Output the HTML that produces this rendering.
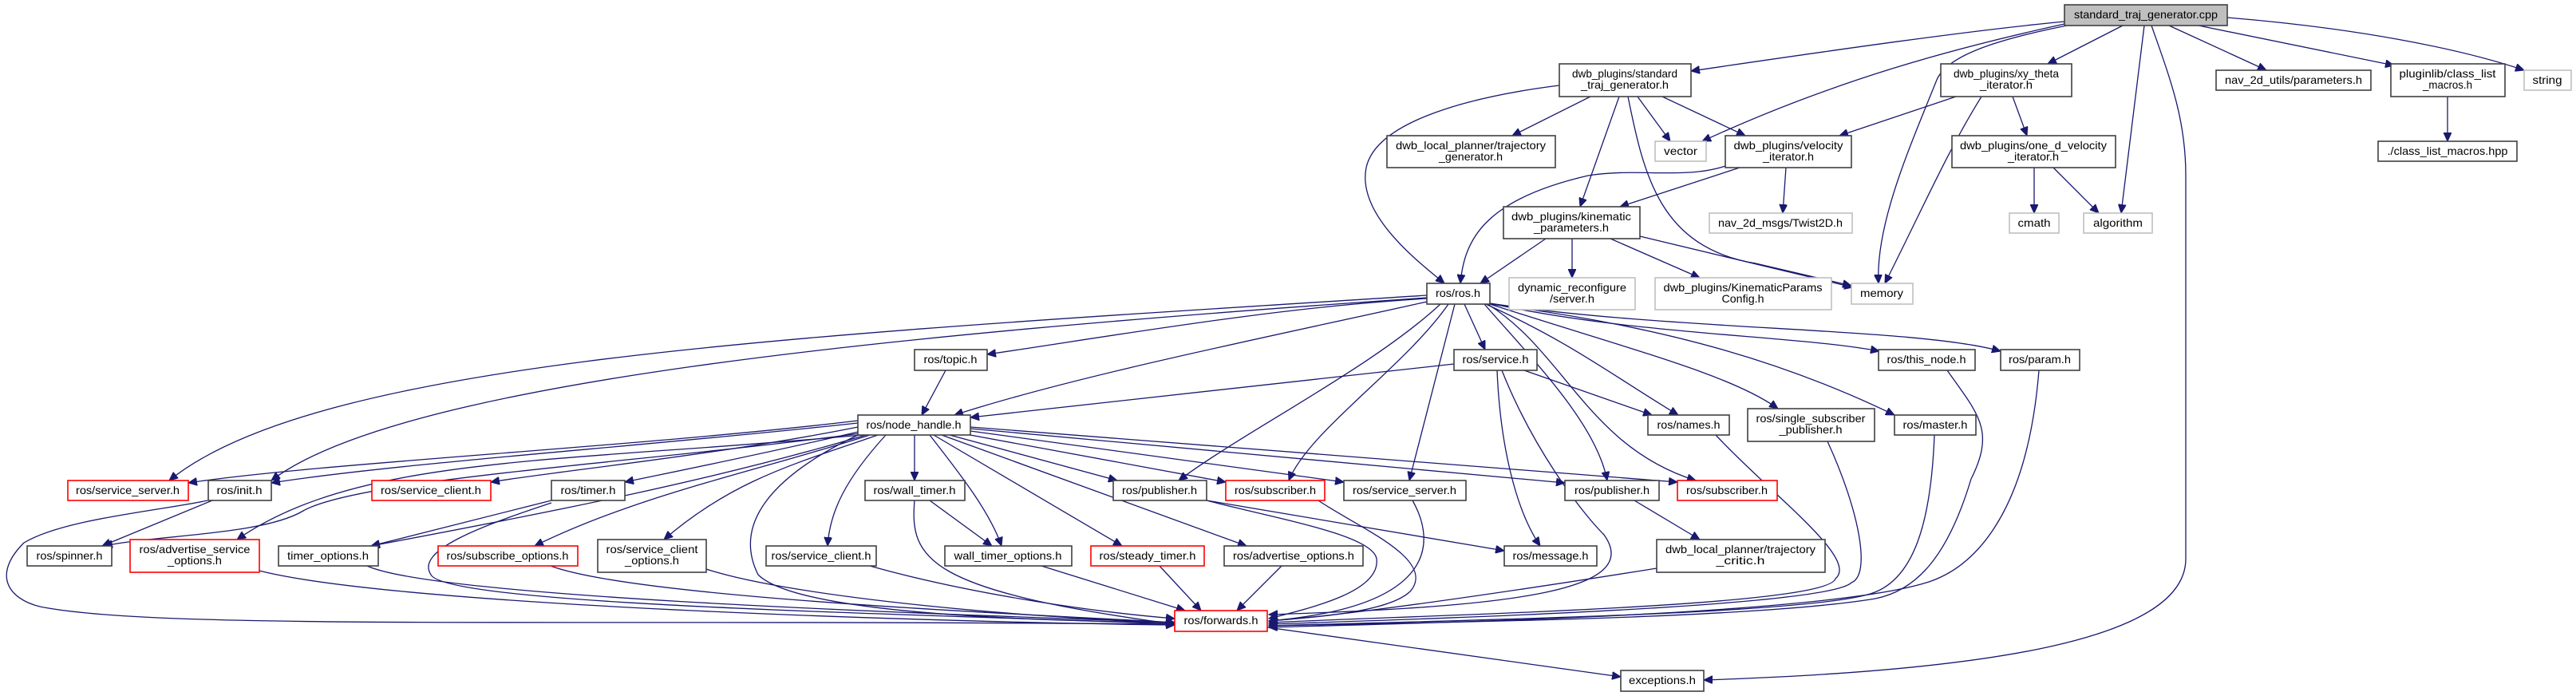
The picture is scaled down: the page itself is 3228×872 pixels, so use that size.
<!DOCTYPE html>
<html><head><meta charset="utf-8"><style>
html,body{margin:0;padding:0;background:#fff;width:3228px;height:872px;overflow:hidden}
svg{display:block}
text{font-family:"Liberation Sans","DejaVu Sans",sans-serif;font-size:14px;fill:#000}
.b{fill:#fff;stroke:#404040;stroke-width:1.6}
.g{fill:#fff;stroke:#bfbfbf;stroke-width:1.6}
.r{fill:#fff;stroke:#ff0000;stroke-width:1.6}
.c{fill:#bfbfbf;stroke:#404040;stroke-width:1.6}
path{fill:none;stroke:#191970;stroke-width:1.3}
</style></head><body>
<svg width="3228" height="872" viewBox="0 0 3228 872" xmlns="http://www.w3.org/2000/svg">
<defs><marker id="a" markerUnits="userSpaceOnUse" markerWidth="12" markerHeight="10" refX="11" refY="5" orient="auto"><path d="M0,0 L11,5 L0,10 Z" style="fill:#191970;stroke:#191970;stroke-width:1"/></marker></defs>
<g marker-end="url(#a)">
<path d="M2587,27 C2450,40 2250,70 2119,89"/>
<path d="M2587,30 C2450,60 2300,100 2133,177"/>
<path d="M2590,32 C2500,50 2440,70 2427,100 C2395,180 2350,280 2354,355"/>
<path d="M2660,32 L2566,80"/>
<path d="M2687,32 L2658,267"/>
<path d="M2696,32 C2720,100 2739,150 2739,220 L2739,700 C2739,800 2500,840 2135,852"/>
<path d="M2718,32 L2840,88"/>
<path d="M2755,32 L3000,82"/>
<path d="M2791,22 C2950,35 3080,60 3163,88"/>
<path d="M1993,121 L1895,170"/>
<path d="M2052,121 L2093,177"/>
<path d="M2083,121 L2187,170"/>
<path d="M2029,121 L1980,259"/>
<path d="M2040,121 C2060,220 2080,310 2200,330 L2320,358"/>
<path d="M1954,107 C1850,120 1725,150 1712,210 C1700,270 1780,330 1810,355"/>
<path d="M2451,121 L2305,170"/>
<path d="M2483,121 C2440,190 2410,260 2362,355"/>
<path d="M2522,121 L2540,170"/>
<path d="M2162,208 C2110,225 2050,210 1990,220 C1860,250 1835,300 1830,355"/>
<path d="M2180,210 L2030,259"/>
<path d="M2238,210 L2234,267"/>
<path d="M2549,210 L2549,267"/>
<path d="M2573,210 L2630,267"/>
<path d="M3067,121 L3067,177"/>
<path d="M1937,299 L1855,355"/>
<path d="M1970,299 L1970,348"/>
<path d="M2018,299 L2130,348"/>
<path d="M2055,296 L2322,360"/>
<path d="M1788,370 C1000,420 400,450 212,602"/>
<path d="M1788,373 C1100,420 500,480 340,602"/>
<path d="M1788,378 C1600,420 1350,470 1196,520"/>
<path d="M1788,374 C1600,385 1400,420 1237,444"/>
<path d="M1835,381 L1861,438"/>
<path d="M1805,381 C1720,460 1560,540 1477,602"/>
<path d="M1815,381 C1760,460 1640,540 1615,602"/>
<path d="M1823,381 L1766,602"/>
<path d="M1862,381 C1970,430 2020,470 2103,520"/>
<path d="M1860,381 C1920,450 2000,530 2014,602"/>
<path d="M1864,381 C1960,440 1990,560 2125,602"/>
<path d="M1867,381 C2050,440 2170,470 2228,512"/>
<path d="M1867,381 C2100,410 2250,460 2374,520"/>
<path d="M1867,380 C2050,420 2250,420 2355,440"/>
<path d="M1867,380 C2100,415 2400,410 2507,440"/>
<path d="M1075,527 C800,560 400,580 236,605"/>
<path d="M1075,530 C800,560 500,580 340,605"/>
<path d="M1075,535 C900,570 700,590 615,604"/>
<path d="M1080,540 C950,570 850,590 783,604"/>
<path d="M1078,543 C800,580 450,600 380,640 C330,670 200,670 130,684"/>
<path d="M1080,545 C700,580 450,570 297,676"/>
<path d="M1085,545 C900,600 700,640 465,684"/>
<path d="M1090,545 C950,590 800,620 670,684"/>
<path d="M1100,545 C1000,580 920,600 832,676"/>
<path d="M1110,545 C1060,600 1040,640 1037,684"/>
<path d="M1146,545 L1146,602"/>
<path d="M1165,545 C1200,590 1240,640 1255,684"/>
<path d="M1170,545 L1406,684"/>
<path d="M1180,545 L1562,684"/>
<path d="M1190,545 L1400,602"/>
<path d="M1205,543 L1536,604"/>
<path d="M1216,540 L1684,604"/>
<path d="M1216,537 L1961,605"/>
<path d="M1216,535 L2102,604"/>
<path d="M1075,545 C960,600 920,660 950,720 C1000,770 1300,778 1472,780"/>
<path d="M1185,464 L1155,520"/>
<path d="M1822,456 L1216,523"/>
<path d="M1910,464 L2070,520"/>
<path d="M1876,464 C1880,560 1900,640 1930,684"/>
<path d="M1882,464 C1920,560 1980,640 2010,670 C2060,740 1900,760 1590,770"/>
<path d="M266,627 L128,684"/>
<path d="M260,627 C200,640 80,650 30,680 C-10,720 10,750 50,760 C200,790 700,775 1472,782"/>
<path d="M691,627 L465,684"/>
<path d="M691,630 C600,660 520,690 540,720 C560,760 1200,770 1472,782"/>
<path d="M1165,627 L1243,684"/>
<path d="M1146,627 C1140,700 1160,740 1472,782"/>
<path d="M1512,627 L1885,690"/>
<path d="M1512,627 C1600,650 1720,670 1725,700 C1730,740 1650,760 1590,775"/>
<path d="M1652,627 C1700,660 1800,700 1768,740 C1740,770 1620,775 1590,778"/>
<path d="M1770,627 C1800,680 1800,760 1590,778"/>
<path d="M2048,627 L2130,676"/>
<path d="M2150,545 C2220,620 2330,700 2300,725 C2290,760 1800,770 1590,780"/>
<path d="M2290,553 C2330,640 2345,720 2320,730 C2290,760 1800,775 1590,782"/>
<path d="M2424,545 C2420,650 2400,730 2340,745 C2250,770 1800,778 1590,784"/>
<path d="M2440,464 C2480,520 2500,540 2470,600 C2440,700 2400,740 2350,750 C2200,775 1800,780 1590,784"/>
<path d="M2555,464 C2540,650 2470,710 2420,728 C2300,770 1800,780 1590,786"/>
<path d="M325,715 C500,760 1200,780 1472,783"/>
<path d="M460,709 C550,750 1200,770 1472,780"/>
<path d="M690,709 C800,750 1300,770 1472,780"/>
<path d="M885,713 C1000,750 1300,775 1472,780"/>
<path d="M1090,709 C1200,740 1350,765 1472,775"/>
<path d="M1305,709 L1485,765"/>
<path d="M1453,709 L1505,765"/>
<path d="M1606,709 L1550,765"/>
<path d="M2076,712 C1900,740 1700,770 1590,778"/>
<path d="M1588,786 L2031,848"/>
</g>
<g lengthAdjust="spacingAndGlyphs" text-anchor="middle">
<rect class="c" x="2587" y="6" width="204" height="26"/><text x="2689" y="23" textLength="180" lengthAdjust="spacingAndGlyphs">standard_traj_generator.cpp</text>
<rect class="b" x="1954" y="80" width="165" height="41"/><text x="2036" y="97" textLength="132" lengthAdjust="spacingAndGlyphs">dwb_plugins/standard</text><text x="2036" y="111" textLength="110" lengthAdjust="spacingAndGlyphs">_traj_generator.h</text>
<rect class="b" x="2432" y="80" width="164" height="41"/><text x="2514" y="97" textLength="132" lengthAdjust="spacingAndGlyphs">dwb_plugins/xy_theta</text><text x="2514" y="111" textLength="66" lengthAdjust="spacingAndGlyphs">_iterator.h</text>
<rect class="b" x="2777" y="88" width="194" height="25"/><text x="2874" y="105" textLength="172" lengthAdjust="spacingAndGlyphs">nav_2d_utils/parameters.h</text>
<rect class="b" x="2996" y="80" width="143" height="41"/><text x="3067" y="97" textLength="121" lengthAdjust="spacingAndGlyphs">pluginlib/class_list</text><text x="3067" y="111" textLength="62" lengthAdjust="spacingAndGlyphs">_macros.h</text>
<rect class="g" x="3163" y="88" width="59" height="25"/><text x="3192" y="105" textLength="37" lengthAdjust="spacingAndGlyphs">string</text>
<rect class="b" x="1738" y="170" width="211" height="40"/><text x="1843" y="187" textLength="188" lengthAdjust="spacingAndGlyphs">dwb_local_planner/trajectory</text><text x="1843" y="201" textLength="80" lengthAdjust="spacingAndGlyphs">_generator.h</text>
<rect class="g" x="2074" y="177" width="64" height="25"/><text x="2106" y="194" textLength="42" lengthAdjust="spacingAndGlyphs">vector</text>
<rect class="b" x="2162" y="170" width="158" height="40"/><text x="2241" y="187" textLength="137" lengthAdjust="spacingAndGlyphs">dwb_plugins/velocity</text><text x="2241" y="201" textLength="64" lengthAdjust="spacingAndGlyphs">_iterator.h</text>
<rect class="b" x="2446" y="170" width="205" height="40"/><text x="2548" y="187" textLength="184" lengthAdjust="spacingAndGlyphs">dwb_plugins/one_d_velocity</text><text x="2548" y="201" textLength="64" lengthAdjust="spacingAndGlyphs">_iterator.h</text>
<rect class="b" x="2980" y="177" width="174" height="25"/><text x="3067" y="194" textLength="151" lengthAdjust="spacingAndGlyphs">./class_list_macros.hpp</text>
<rect class="b" x="1884" y="259" width="171" height="40"/><text x="1969" y="276" textLength="150" lengthAdjust="spacingAndGlyphs">dwb_plugins/kinematic</text><text x="1969" y="290" textLength="94" lengthAdjust="spacingAndGlyphs">_parameters.h</text>
<rect class="g" x="2142" y="267" width="179" height="25"/><text x="2231" y="284" textLength="156" lengthAdjust="spacingAndGlyphs">nav_2d_msgs/Twist2D.h</text>
<rect class="g" x="2518" y="267" width="62" height="25"/><text x="2549" y="284" textLength="41" lengthAdjust="spacingAndGlyphs">cmath</text>
<rect class="g" x="2611" y="267" width="86" height="25"/><text x="2654" y="284" textLength="62" lengthAdjust="spacingAndGlyphs">algorithm</text>
<rect class="b" x="1788" y="355" width="79" height="26"/><text x="1827" y="372" textLength="56" lengthAdjust="spacingAndGlyphs">ros/ros.h</text>
<rect class="g" x="1891" y="348" width="158" height="40"/><text x="1970" y="365" textLength="136" lengthAdjust="spacingAndGlyphs">dynamic_reconfigure</text><text x="1970" y="379" textLength="56" lengthAdjust="spacingAndGlyphs">/server.h</text>
<rect class="g" x="2074" y="348" width="221" height="40"/><text x="2184" y="365" textLength="199" lengthAdjust="spacingAndGlyphs">dwb_plugins/KinematicParams</text><text x="2184" y="379" textLength="53" lengthAdjust="spacingAndGlyphs">Config.h</text>
<rect class="g" x="2320" y="355" width="77" height="26"/><text x="2358" y="372" textLength="54" lengthAdjust="spacingAndGlyphs">memory</text>
<rect class="b" x="1146" y="438" width="91" height="26"/><text x="1191" y="455" textLength="67" lengthAdjust="spacingAndGlyphs">ros/topic.h</text>
<rect class="b" x="1822" y="438" width="104" height="26"/><text x="1874" y="455" textLength="83" lengthAdjust="spacingAndGlyphs">ros/service.h</text>
<rect class="b" x="2354" y="438" width="121" height="26"/><text x="2414" y="455" textLength="99" lengthAdjust="spacingAndGlyphs">ros/this_node.h</text>
<rect class="b" x="2507" y="438" width="99" height="26"/><text x="2556" y="455" textLength="78" lengthAdjust="spacingAndGlyphs">ros/param.h</text>
<rect class="b" x="1075" y="520" width="141" height="25"/><text x="1145" y="537" textLength="119" lengthAdjust="spacingAndGlyphs">ros/node_handle.h</text>
<rect class="b" x="2065" y="520" width="102" height="25"/><text x="2116" y="537" textLength="79" lengthAdjust="spacingAndGlyphs">ros/names.h</text>
<rect class="b" x="2190" y="512" width="159" height="41"/><text x="2269" y="529" textLength="137" lengthAdjust="spacingAndGlyphs">ros/single_subscriber</text><text x="2269" y="543" textLength="79" lengthAdjust="spacingAndGlyphs">_publisher.h</text>
<rect class="b" x="2374" y="520" width="102" height="25"/><text x="2425" y="537" textLength="81" lengthAdjust="spacingAndGlyphs">ros/master.h</text>
<rect class="r" x="85" y="602" width="151" height="25"/><text x="160" y="619" textLength="130" lengthAdjust="spacingAndGlyphs">ros/service_server.h</text>
<rect class="b" x="261" y="602" width="79" height="25"/><text x="300" y="619" textLength="57" lengthAdjust="spacingAndGlyphs">ros/init.h</text>
<rect class="r" x="466" y="602" width="149" height="25"/><text x="540" y="619" textLength="126" lengthAdjust="spacingAndGlyphs">ros/service_client.h</text>
<rect class="b" x="691" y="602" width="92" height="25"/><text x="737" y="619" textLength="69" lengthAdjust="spacingAndGlyphs">ros/timer.h</text>
<rect class="b" x="1084" y="602" width="125" height="25"/><text x="1146" y="619" textLength="103" lengthAdjust="spacingAndGlyphs">ros/wall_timer.h</text>
<rect class="b" x="1395" y="602" width="117" height="25"/><text x="1453" y="619" textLength="94" lengthAdjust="spacingAndGlyphs">ros/publisher.h</text>
<rect class="r" x="1536" y="602" width="124" height="25"/><text x="1598" y="619" textLength="102" lengthAdjust="spacingAndGlyphs">ros/subscriber.h</text>
<rect class="b" x="1684" y="602" width="153" height="25"/><text x="1760" y="619" textLength="130" lengthAdjust="spacingAndGlyphs">ros/service_server.h</text>
<rect class="b" x="1961" y="602" width="118" height="25"/><text x="2020" y="619" textLength="94" lengthAdjust="spacingAndGlyphs">ros/publisher.h</text>
<rect class="r" x="2102" y="602" width="125" height="25"/><text x="2164" y="619" textLength="102" lengthAdjust="spacingAndGlyphs">ros/subscriber.h</text>
<rect class="b" x="34" y="684" width="106" height="25"/><text x="87" y="701" textLength="83" lengthAdjust="spacingAndGlyphs">ros/spinner.h</text>
<rect class="r" x="163" y="676" width="162" height="41"/><text x="244" y="693" textLength="139" lengthAdjust="spacingAndGlyphs">ros/advertise_service</text><text x="244" y="707" textLength="68" lengthAdjust="spacingAndGlyphs">_options.h</text>
<rect class="b" x="349" y="684" width="125" height="25"/><text x="411" y="701" textLength="102" lengthAdjust="spacingAndGlyphs">timer_options.h</text>
<rect class="r" x="549" y="684" width="175" height="25"/><text x="636" y="701" textLength="153" lengthAdjust="spacingAndGlyphs">ros/subscribe_options.h</text>
<rect class="b" x="749" y="676" width="136" height="41"/><text x="817" y="693" textLength="115" lengthAdjust="spacingAndGlyphs">ros/service_client</text><text x="817" y="707" textLength="68" lengthAdjust="spacingAndGlyphs">_options.h</text>
<rect class="b" x="960" y="684" width="138" height="25"/><text x="1029" y="701" textLength="125" lengthAdjust="spacingAndGlyphs">ros/service_client.h</text>
<rect class="b" x="1184" y="684" width="159" height="25"/><text x="1263" y="701" textLength="135" lengthAdjust="spacingAndGlyphs">wall_timer_options.h</text>
<rect class="r" x="1367" y="684" width="142" height="25"/><text x="1438" y="701" textLength="121" lengthAdjust="spacingAndGlyphs">ros/steady_timer.h</text>
<rect class="b" x="1534" y="684" width="174" height="25"/><text x="1621" y="701" textLength="152" lengthAdjust="spacingAndGlyphs">ros/advertise_options.h</text>
<rect class="b" x="1885" y="684" width="116" height="25"/><text x="1943" y="701" textLength="95" lengthAdjust="spacingAndGlyphs">ros/message.h</text>
<rect class="b" x="2076" y="676" width="211" height="41"/><text x="2181" y="693" textLength="188" lengthAdjust="spacingAndGlyphs">dwb_local_planner/trajectory</text><text x="2181" y="707" textLength="61" lengthAdjust="spacingAndGlyphs">_critic.h</text>
<rect class="r" x="1472" y="765" width="116" height="26"/><text x="1530" y="782" textLength="93" lengthAdjust="spacingAndGlyphs">ros/forwards.h</text>
<rect class="b" x="2031" y="840" width="104" height="26"/><text x="2083" y="857" textLength="84" lengthAdjust="spacingAndGlyphs">exceptions.h</text>
</g>
</svg>
</body></html>
